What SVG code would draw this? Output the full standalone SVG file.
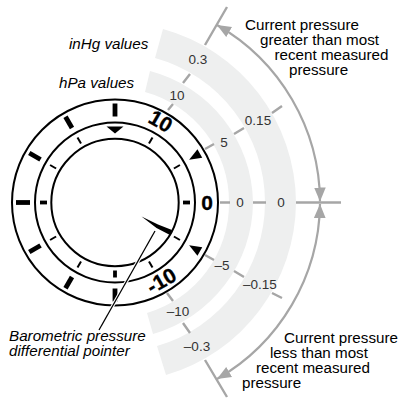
<svg xmlns="http://www.w3.org/2000/svg" width="406" height="404" viewBox="0 0 406 404">
<style>
text{font-family:"Liberation Sans",Arial,sans-serif}
.lab{font-size:15.200px;fill:#000}
.ital{font-size:15.200px;font-style:italic;fill:#000}
.num{font-size:13.500px;fill:#333;text-anchor:middle}
.big{font-size:21px;font-weight:bold;fill:#000;stroke:#000;stroke-width:.3;text-anchor:middle}
.band{fill:#eeefef}
.rad{stroke:#a6a6a6;stroke-width:2.400;fill:none}
.arc{stroke:#a6a6a6;stroke-width:2.200;fill:none;marker-start:url(#ah);marker-end:url(#ah)}
.ring{fill:none;stroke:#000;stroke-width:2}
.maj{stroke:#000;stroke-width:4.800}
.mid{stroke:#000;stroke-width:3.800}
.min{stroke:#000;stroke-width:2}
</style>
<defs>
<marker id="ah" markerUnits="userSpaceOnUse" markerWidth="14" markerHeight="12" refX="12" refY="5" orient="auto-start-reverse" viewBox="0 0 12 10"><path d="M0 0L12 5L0 10Z" fill="#a6a6a6"/></marker>
</defs>
<g id="bands">
<path class="band" d="M145 92A114 114 0 0 1 229 202.500A114 114 0 0 1 147 313L153 334A138 138 0 0 0 253 202.500A138 138 0 0 0 150 71Z"/>
<path class="band" d="M155 58A150 150 0 0 1 265 202.500A150 150 0 0 1 157 346L166 375A181 181 0 0 0 296 202.500A181 181 0 0 0 163 29Z"/>
</g>
<g id="connectors">
<path class="rad" d="M168 110L173 104M183 83L190 74M205 45L227 7M205 149L214 144M234 134L244 128M272 113L282 106M220 202.500H230M253 202.500H266M296 202.500H341M205 255L214 260M234 271L244 277M272 293L282 298M167 293L173 301M183 323L190 333M205 360L227 397"/>
<path class="arc" d="M217 25A205 205 0 0 1 320 201.500"/>
<path class="arc" d="M320 204A205 205 0 0 1 217 379"/>
</g>
<g id="dial">
<circle class="ring" cx="115" cy="202.500" r="103"/>
<circle class="ring" cx="115" cy="202.500" r="80"/>
<circle class="ring" cx="115" cy="202.500" r="63.700"/>
<g transform="translate(115 202.500)">
<path class="maj" d="M0 -99V-86"/>
<path class="maj" transform="rotate(-30)" d="M0 -99V-86"/>
<path class="maj" transform="rotate(-60)" d="M0 -99V-86"/>
<path class="maj" transform="rotate(-90)" d="M0 -99V-85"/>
<path class="maj" transform="rotate(-120)" d="M0 -99V-86"/>
<path class="maj" transform="rotate(-150)" d="M0 -99V-86"/>
<path class="maj" transform="rotate(180)" d="M0 -99V-86"/>
<path class="min" transform="rotate(30)" d="M0 -75V-68"/>
<path class="min" transform="rotate(60)" d="M0 -75V-68"/>
<path class="mid" transform="rotate(90)" d="M0 -75V-68"/>
<path class="min" transform="rotate(120)" d="M0 -75V-68"/>
<path class="min" transform="rotate(150)" d="M0 -75V-68"/>
<path class="mid" transform="rotate(180)" d="M0 -75V-68"/>
<path class="min" transform="rotate(210)" d="M0 -75V-68"/>
<path class="min" transform="rotate(240)" d="M0 -75V-68"/>
<path class="mid" transform="rotate(270)" d="M0 -75V-68"/>
<path class="min" transform="rotate(300)" d="M0 -75V-68"/>
<path class="min" transform="rotate(330)" d="M0 -75V-68"/>
<path d="M-8.500 -76H8.500L0 -69Z" fill="#000"/>
<path d="M-4.800 -98H4.800L0 -85.600Z" fill="#000" transform="rotate(60)"/>
<path d="M-4.800 -98H4.800L0 -85.600Z" fill="#000" transform="rotate(120)"/>
</g>
<text class="big" transform="translate(157 127.500) rotate(30)">10</text>
<text class="big" transform="translate(207 209.500)">0</text>
<text class="big" transform="translate(165 287) rotate(-30)">-10</text>
</g>
<g id="pointer">
<path d="M141.500 216.500L158 224.500L172 230L170 235L156.500 228Z" fill="#000"/>
<path d="M155 231L99 330" stroke="#fff" stroke-width="3.500" fill="none"/>
<path d="M155 231L99 330" stroke="#000" stroke-width="1.300" fill="none"/>
</g>
<g id="numbers">
<text class="num" x="198" y="64">0.3</text>
<text class="num" x="177" y="100">10</text>
<text class="num" x="258" y="125">0.15</text>
<text class="num" x="224" y="147">5</text>
<text class="num" x="240" y="207">0</text>
<text class="num" x="281" y="207">0</text>
<text class="num" x="222" y="270">–5</text>
<text class="num" x="260" y="289">–0.15</text>
<text class="num" x="178" y="316">–10</text>
<text class="num" x="197" y="351">–0.3</text>
</g>
<g id="labels">
<text class="ital" x="69" y="49">inHg values</text>
<text class="ital" x="59" y="88">hPa values</text>
<text class="ital" x="9" y="341">Barometric pressure</text>
<text class="ital" x="9" y="356">differential pointer</text>
<text class="lab" x="245" y="30">Current pressure</text>
<text class="lab" x="260" y="45">greater than most</text>
<text class="lab" x="274.500" y="60">recent measured</text>
<text class="lab" x="289" y="75">pressure</text>
<text class="lab" x="284" y="343">Current pressure</text>
<text class="lab" x="270" y="358">less than most</text>
<text class="lab" x="256" y="373">recent measured</text>
<text class="lab" x="242" y="388">pressure</text>
</g>
</svg>
